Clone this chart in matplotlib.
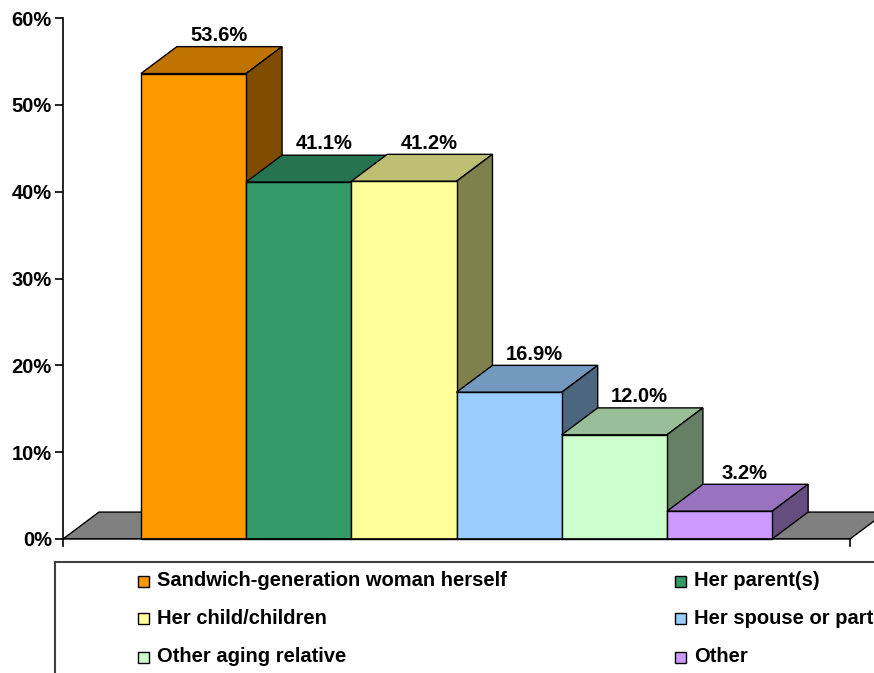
import matplotlib
matplotlib.use("Agg")
import matplotlib.pyplot as plt
from matplotlib.patches import Polygon, Rectangle
from matplotlib.ticker import FuncFormatter

# data
categories = ["Sandwich-generation woman herself", "Her parent(s)", "Her child/children",
              "Her spouse or partner", "Other aging relative", "Other"]
values = [53.6, 41.1, 41.2, 16.9, 12.0, 3.2]
front_colors = ["#FF9900", "#339966", "#FFFF99", "#99CCFF", "#CCFFCC", "#CC99FF"]
top_colors = ["#BF7300", "#267350", "#BFBF73", "#7399BF", "#99BF99", "#9973BF"]
side_colors = ["#7F4C00", "#1A4D33", "#80804D", "#4D6680", "#668066", "#664D80"]

plt.rcParams['font.family'] = ['Liberation Sans', 'DejaVu Sans']
plt.rcParams['font.weight'] = 'bold'
fs = 14.5

W, H = 874, 673
fig = plt.figure(figsize=(W / 100, H / 100), dpi=100)
ax = fig.add_axes([63 / W, 1 - 539 / H, 787 / W, 521 / H])
x0, x1 = -1.24, 6.24
ax.set_xlim(x0, x1)
ax.set_ylim(0, 60)

# 3d depth (data units)
dx, dy = 0.342, 3.1
lw = 1.0

# floor
ax.add_patch(Polygon([(x0, 0), (x1, 0), (x1 + dx, dy), (x0 + dx, dy)],
                     facecolor="#808080", edgecolor="black", lw=lw, clip_on=False, zorder=1))

for i, v in enumerate(values):
    l, r = i - 0.5, i + 0.5
    ax.add_patch(Polygon([(l, v), (r, v), (r + dx, v + dy), (l + dx, v + dy)],
                         facecolor=top_colors[i], edgecolor="black", lw=lw, clip_on=False, zorder=2))
    ax.add_patch(Polygon([(r, 0), (r + dx, dy), (r + dx, v + dy), (r, v)],
                         facecolor=side_colors[i], edgecolor="black", lw=lw, clip_on=False, zorder=2))
    ax.add_patch(Rectangle((l, 0), 1, v, facecolor=front_colors[i], edgecolor="black",
                           lw=lw, clip_on=False, zorder=2))
    ax.text(i + 0.24, v + dy + 0.2, f"{v:.1f}%", ha="center", va="bottom",
            fontsize=fs, fontweight="bold", zorder=3)

# axes
for s in ["top", "right", "bottom"]:
    ax.spines[s].set_visible(False)
ax.spines["left"].set_linewidth(1.2)
ax.axhline(0, color="black", lw=1.2, zorder=3)
ax.plot([x0, x0], [0, -0.8], color="black", lw=1.2, clip_on=False)
ax.plot([x1, x1], [0, -0.8], color="black", lw=1.2, clip_on=False)
ax.set_xticks([])
ax.set_yticks(range(0, 61, 10))
ax.yaxis.set_major_formatter(FuncFormatter(lambda y, p: f"{int(y)}%"))
ax.tick_params(axis="y", direction="out", length=6, width=1.2, labelsize=fs, pad=2)
for t in ax.get_yticklabels():
    t.set_fontweight("bold")
ax.patch.set_visible(False)

# legend box (runs off the figure like the original)
fig.add_artist(Rectangle((55 / W, -0.1), 1, (H - 562) / H + 0.1, transform=fig.transFigure,
                         fill=False, edgecolor="#404040", lw=1.5))
rows_y = [581, 618, 657]
cols_x = [138, 675]
for k, name in enumerate(categories):
    cx = cols_x[k % 2]
    cy = rows_y[k // 2]
    fig.add_artist(Rectangle((cx / W, 1 - (cy + 6) / H), 11 / W, 11 / H, transform=fig.transFigure,
                             facecolor=front_colors[k], edgecolor="black", lw=1))
    fig.text((cx + 19) / W, 1 - cy / H, name, ha="left", va="center", fontsize=fs,
             fontweight="bold")

fig.savefig("out.png", dpi=100)
